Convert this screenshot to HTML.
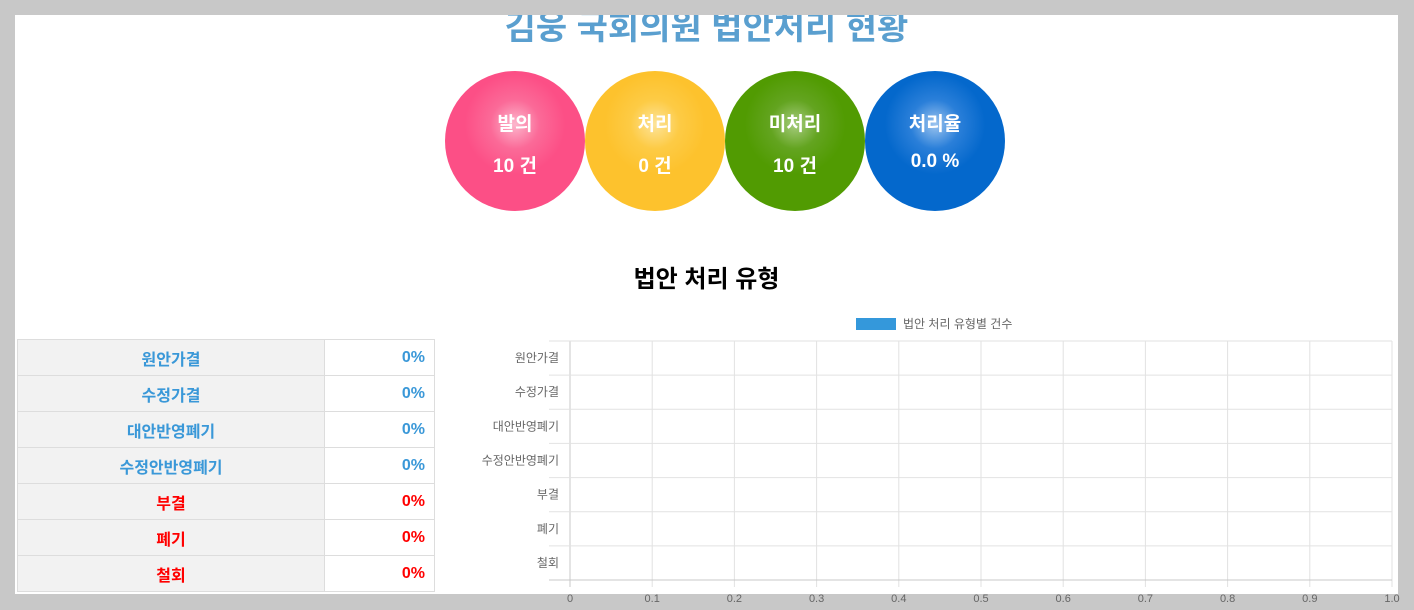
<!DOCTYPE html>
<html><head><meta charset="utf-8">
<style>
body{margin:0;width:1414px;height:610px;background:#c8c8c8;position:relative;overflow:hidden;font-family:"Liberation Sans","Noto Sans CJK KR",sans-serif}
#panel{position:absolute;left:15px;top:15px;width:1383px;height:579px;background:#fff;overflow:hidden}
#title{position:absolute;left:0;width:1383px;top:-12px;text-align:center;font-size:34px;font-weight:bold;color:#5a9fcf;line-height:50px}
.c{position:absolute;top:56px;width:140px;height:140px;border-radius:50%;color:#fff;font-weight:bold;text-align:center}
.c .l{position:absolute;top:38px;width:100%;font-size:19px}
.c .v{position:absolute;top:80px;width:100%;font-size:19px}
#sub{position:absolute;top:244px;width:1383px;text-align:center;font-size:24px;font-weight:bold;color:#000}
table{position:absolute;left:2px;top:324px;border-collapse:collapse;width:418px}
td{border:1px solid #ddd;height:35px;padding:0;font-size:16px;font-weight:bold}
td.k{background:#f2f2f2;text-align:center;width:306px}
td.p{text-align:right;padding-right:9px;background:#fff}
.b{color:#3a98d8}.r{color:#f00}
svg{position:absolute;left:0;top:0}
</style></head><body>
<div id="panel">
<div id="title">김웅 국회의원 법안처리 현황</div>
<div class="c" style="left:430px;background:radial-gradient(circle at 50% 38%,#fcb6cc 0,#fb6a98 22%,#fc4f86 45%)"><div class="l">발의</div><div class="v">10 건</div></div>
<div class="c" style="left:570px;background:radial-gradient(circle at 50% 38%,#fde49a 0,#fdcb45 22%,#fdc22d 45%)"><div class="l">처리</div><div class="v">0 건</div></div>
<div class="c" style="left:710px;background:radial-gradient(circle at 50% 38%,#a6cc7e 0,#63a420 22%,#519b02 45%)"><div class="l">미처리</div><div class="v">10 건</div></div>
<div class="c" style="left:850px;background:radial-gradient(circle at 50% 38%,#9cc4ef 0,#2a7fd9 22%,#0468cc 45%)"><div class="l">처리율</div><div class="v">0.0 %</div></div>
<div id="sub">법안 처리 유형</div>
<table>
<tr><td class="k b">원안가결</td><td class="p b">0%</td></tr>
<tr><td class="k b">수정가결</td><td class="p b">0%</td></tr>
<tr><td class="k b">대안반영폐기</td><td class="p b">0%</td></tr>
<tr><td class="k b">수정안반영폐기</td><td class="p b">0%</td></tr>
<tr><td class="k r">부결</td><td class="p r">0%</td></tr>
<tr><td class="k r">폐기</td><td class="p r">0%</td></tr>
<tr><td class="k r">철회</td><td class="p r">0%</td></tr>
</table>
</div>
<svg id="chart" width="1414" height="610"></svg>
<script>
const categories=["원안가결","수정가결","대안반영폐기","수정안반영폐기","부결","폐기","철회"];
const values=[0,0,0,0,0,0,0];
const ticks=[0,0.1,0.2,0.3,0.4,0.5,0.6,0.7,0.8,0.9,1.0];
const tickLabels=["0","0.1","0.2","0.3","0.4","0.5","0.6","0.7","0.8","0.9","1.0"];
const svg=document.getElementById('chart');const NS="http://www.w3.org/2000/svg";
const L=570,R=1392,T=341,B=580,xMax=1;
const x=v=>L+(R-L)*v/xMax;const bh=(B-T)/categories.length;const y=i=>T+i*bh;
function mk(t,a,txt){const e=document.createElementNS(NS,t);for(const k in a)e.setAttribute(k,a[k]);if(txt!=null)e.textContent=txt;svg.appendChild(e);return e;}
ticks.forEach((t,i)=>{const g=mk('line',{x1:x(t),x2:x(t),y1:T,y2:B+7,stroke:i==0?'#c8c8c8':'#e2e2e2'});

const tl=mk('text',{x:x(t),y:602,'text-anchor':'middle','font-size':11,fill:'#666'},tickLabels[i]);
});
for(let i=0;i<=categories.length;i++){const g=mk('line',{x1:L-21,x2:R,y1:y(i),y2:y(i),stroke:i==categories.length?'#c8c8c8':'#e2e2e2'});
}
categories.forEach((c,i)=>{const t=mk('text',{x:559,y:y(i)+bh/2+4,'text-anchor':'end','font-size':12,fill:'#666'},c);

const b=mk('rect',{x:L,y:y(i)+bh*0.1,width:x(values[i])-L,height:bh*0.8,fill:'#3498db'});
});
const lg=mk('rect',{x:856,y:318,width:40,height:12,fill:'#3498db'});

const lt=mk('text',{x:903,y:328,'font-size':12,fill:'#666'},'법안 처리 유형별 건수');

</script>
</body></html>
